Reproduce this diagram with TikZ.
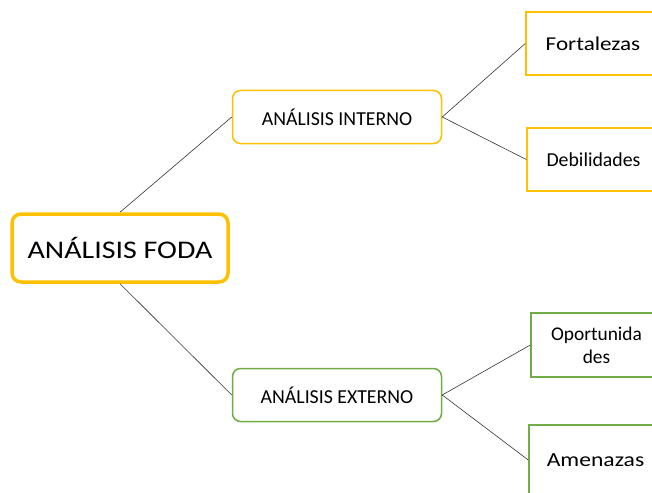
\documentclass[tikz,border=0pt]{standalone}
\usepackage{fontspec}
\setmainfont{Carlito}
\newfontfamily\widefont[FakeStretch=1.18]{Carlito}
\definecolor{foda}{HTML}{FFC000}
\definecolor{verde}{HTML}{70AD47}
\begin{document}
\begin{tikzpicture}[x=1pt,y=-1pt,
  rootbox/.style={draw=foda,line width=3.5pt,rounded corners=9pt,fill=white,minimum width=216pt,minimum height=68pt,inner sep=0pt},
  midbox/.style={draw=#1,line width=1.5pt,rounded corners=8pt,fill=white,minimum width=209pt,minimum height=53pt,inner sep=0pt},
  leafbox/.style={draw=#1,line width=1.5pt,fill=white,inner sep=0pt,align=center},
  link/.style={draw=black!80,line width=0.6pt}]
\useasboundingbox (0,0) rectangle (652,492);
\clip (0,0) rectangle (652,492);
\node[rootbox,font=\widefont\fontsize{25.4}{30}\selectfont] (foda) at (120,248) {ANÁLISIS FODA};
\node[midbox=foda,font=\fontsize{19.8}{23}\selectfont] (int) at (337,117) {ANÁLISIS INTERNO};
\node[midbox=verde,font=\fontsize{19.8}{23}\selectfont] (ext) at (337,395) {ANÁLISIS EXTERNO};
\node[leafbox=foda,minimum width=134pt,minimum height=63pt,font=\widefont\fontsize{19.6}{23}\selectfont] (fort) at (593,43.5) {Fortalezas};
\node[leafbox=foda,minimum width=133pt,minimum height=63pt,font=\fontsize{19.8}{23}\selectfont] (deb) at (593.5,159.5) {Debilidades};
\node[leafbox=verde,minimum width=131pt,minimum height=64pt,font=\fontsize{19.4}{23}\selectfont] (opo) at (596.5,345) {Oportunida\\des};
\node[leafbox=verde,minimum width=133pt,minimum height=70pt,font=\widefont\fontsize{20}{24}\selectfont] (ame) at (595.5,460) {Amenazas};
\draw[link] (foda.north) -- (int.west);
\draw[link] (foda.south) -- (ext.west);
\draw[link] (int.east) -- (fort.west);
\draw[link] (int.east) -- (deb.west);
\draw[link] (ext.east) -- (opo.west);
\draw[link] (ext.east) -- (ame.west);
\end{tikzpicture}
\end{document}
